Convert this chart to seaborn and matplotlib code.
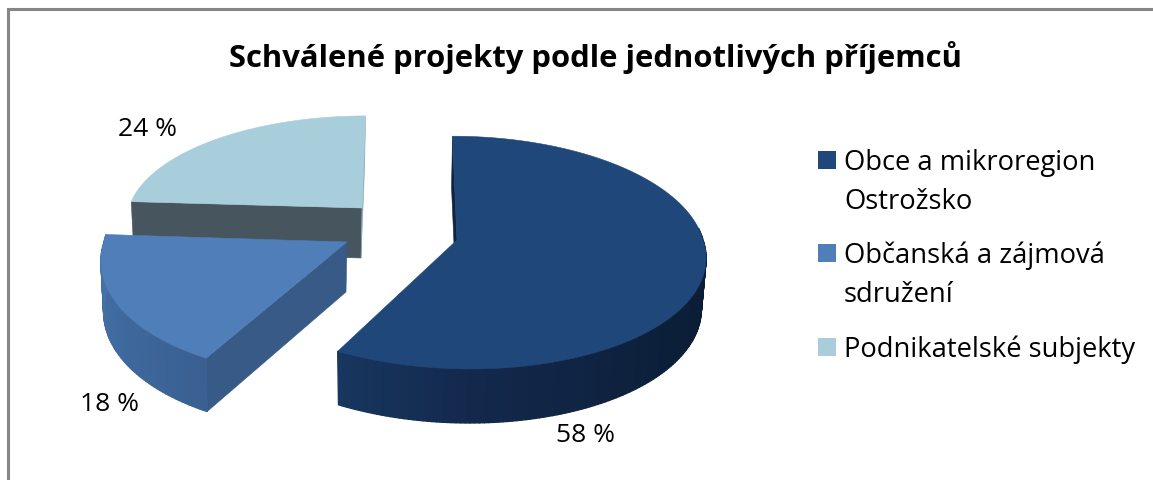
import numpy as np
import matplotlib
matplotlib.use("Agg")
import matplotlib.pyplot as plt
from matplotlib.colors import to_rgb
import seaborn as sns

TITLE = "Schválené projekty podle jednotlivých příjemců"
categories = ["Obce a mikroregion\nOstrožsko", "Občanská a zájmová\nsdružení", "Podnikatelské subjekty"]
shares = [58, 18, 24]
top_colors = ["#1F4779", "#4F7EB9", "#A8CDDB"]

sns.set_theme(style="white")
plt.rcParams["font.family"] = ["Open Sans", "DejaVu Sans"]
palette = sns.color_palette(top_colors)

fig, ax = plt.subplots(figsize=(11.53, 4.81), dpi=100)
ax.set_position([0, 0, 1, 1])
ax.set_xlim(0, 1153)
ax.set_ylim(481, 0)
ax.axis("off")

# slice geometry (style only): apex, radii, skew, rim colours
K = 0.108
DEPTH = 50
BOT = 0.985
geo = [
    dict(c=(457, 241), A=246, B=115, back=-5, front=-12, rim=((84, "#0B1C33"), (130, "#0C1F39"), (180, "#13294C"), (208.8, "#18365F"))),
    dict(c=(347, 243), A=243, B=120, back=0, front=12, rim=((208, "#3A5F90"), (240, "#3F6A9F"), (275, "#4673AB"))),
    dict(c=(362, 209), A=233, B=102, back=4, front=0, rim=None),
]
edges = np.concatenate([[0], np.cumsum(shares)]) * 3.6


def rim_pt(g, deg, bottom=False):
    t = np.radians(deg)
    X, Y = np.sin(t), np.cos(t)
    w = 1 + K * Y
    skew = g["back"] if Y > 0 else g["front"]
    dx = (g["A"] * X + skew * Y) / w
    dy = -g["B"] * Y / w
    cx, cy = g["c"]
    if bottom:
        return np.array([cx + BOT * dx - 1, cy + DEPTH + BOT * dy + DEPTH * (1 / w - 1) * (BOT if Y < 0 else 0)])
    return np.array([cx + dx, cy + dy])


def apex(g, bottom=False):
    cx, cy = g["c"]
    return np.array([cx - 1, cy + DEPTH]) if bottom else np.array([cx, cy])


def quad(pts, color, z, lw=0.4):
    pts = np.array(pts)
    ax.fill(pts[:, 0], pts[:, 1], facecolor=color, edgecolor=color, lw=lw, zorder=z)


def rim_color(stops, deg):
    a = np.array([s[0] for s in stops])
    cols = np.array([to_rgb(s[1]) for s in stops])
    return tuple(np.interp(deg, a, cols[:, i]) for i in range(3))


def cut_face(g, deg, color, z):
    quad([apex(g), rim_pt(g, deg), rim_pt(g, deg, True), apex(g, True)], color, z)


def rim_side(g, a0, a1, z):
    grid = np.linspace(a0, a1, int(abs(a1 - a0)) + 2)
    for d0, d1 in zip(grid[:-1], grid[1:]):
        quad([rim_pt(g, d0), rim_pt(g, d1), rim_pt(g, d1, True), rim_pt(g, d0, True)],
             rim_color(g["rim"], (d0 + d1) / 2), z, lw=1.0)


def top(g, a0, a1, color, z):
    grid = np.linspace(a0, a1, 200)
    pts = [apex(g)] + [rim_pt(g, d) for d in grid]
    quad(pts, color, z)


# back slice first
g_d, g_m, g_l = geo
cut_face(g_l, edges[2], "#46555E", 1)
cut_face(g_l, edges[3], "#8BA7B4", 1)
top(g_l, edges[2], edges[3], palette[2], 2)

cut_face(g_m, edges[1], "#375A87", 3)
rim_side(g_m, edges[1], edges[2], 3)
top(g_m, edges[1], edges[2], palette[1], 4)

cut_face(g_d, edges[0], "#0F2440", 5)
rim_side(g_d, 84, edges[1], 5)
top(g_d, edges[0], edges[1], palette[0], 6)

# chart frame
ax.plot([7.5, 7.5, 1153], [481, 9.5, 9.5], color="#868686", lw=2.2, solid_joinstyle="miter", zorder=0)

ax.text(595, 57, TITLE, fontsize=22.3, fontweight="bold", color="black", ha="center", va="center")

label_pos = [(586, 436), (110, 405), (147, 130)]
for v, (x, y) in zip(shares, label_pos):
    ax.text(x, y, f"{v} %", fontsize=19, color="black", ha="center", va="center")

swatch_y = [161, 254, 348]
for col, name, y in zip(palette, categories, swatch_y):
    ax.fill([818, 836, 836, 818], [y - 9, y - 9, y + 9, y + 9], color=col, lw=0, zorder=3)
    for i, line in enumerate(name.split("\n")):
        ax.text(844, y + 2 + i * 39, line, fontsize=19.7, color="black", ha="left", va="center")

fig.savefig("out.png", dpi=100, facecolor="white")
